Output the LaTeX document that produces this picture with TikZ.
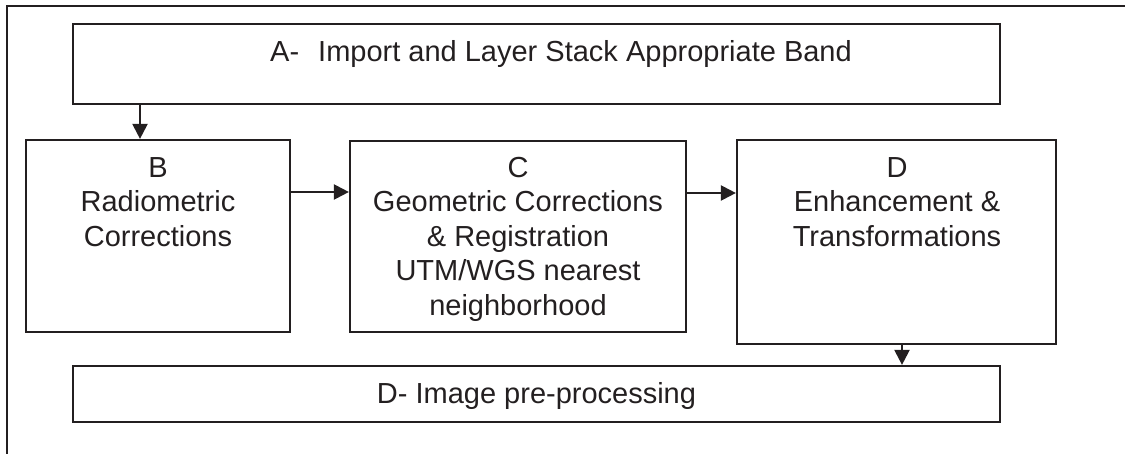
\documentclass[tikz,border=0pt]{standalone}
\usepackage{fontspec}
\setmainfont{Liberation Sans}
\usetikzlibrary{arrows.meta}
\definecolor{ink}{RGB}{35,31,32}
\tikzset{
  box/.style={draw=ink, line width=2.2pt, rectangle, inner sep=0pt},
  txt/.style={text=ink, align=center, inner sep=0pt, font=\fontsize{29}{34.5}\selectfont},
  arr/.style={draw=ink, line width=2.2pt, -{Triangle[length=15pt,width=15pt]}}
}
\begin{document}
\begin{tikzpicture}[x=1pt,y=-1pt]
\useasboundingbox (0,0) rectangle (1125,454);
% outer frame (clipped at right and bottom)
\draw[draw=ink, line width=2.2pt] (7,480) -- (7,6) -- (1160,6);
% boxes
\node[box, minimum width=927pt, minimum height=80pt] (A) at (536.5,64) {};
\node[box, minimum width=264pt, minimum height=192pt] (B) at (158,236) {};
\node[box, minimum width=336pt, minimum height=191pt] (C) at (518,236.5) {};
\node[box, minimum width=319pt, minimum height=204pt] (D) at (896.5,242) {};
\node[box, minimum width=927pt, minimum height=56pt] (E) at (536.5,394) {};
% texts
\node[txt, anchor=base] (At) at (561,62) {A-\hspace{19pt}Import and Layer Stack Appropriate Band};
\node[txt, anchor=north] (Bt) at (158,157) {B\\Radiometric\\Corrections};
\node[txt, anchor=north] (Ct) at (518,157) {C\\Geometric Corrections\\\& Registration\\UTM/WGS nearest\\neighborhood};
\node[txt, anchor=north] (Dt) at (897,157) {D\\Enhancement \&\\Transformations};
\node[txt, anchor=base] (Et) at (536.5,403) {D- Image pre-processing};
% connectors
\coordinate (ab) at (140,0);
\coordinate (bc) at (0,192);
\coordinate (cd) at (0,193);
\coordinate (de) at (902,0);
\draw[arr] (ab |- A.south) -- (ab |- B.north);
\draw[arr] (B.east |- bc) -- (C.west |- bc);
\draw[arr] (C.east |- cd) -- (D.west |- cd);
\draw[arr] (de |- D.south) -- (de |- E.north);
\end{tikzpicture}
\end{document}
